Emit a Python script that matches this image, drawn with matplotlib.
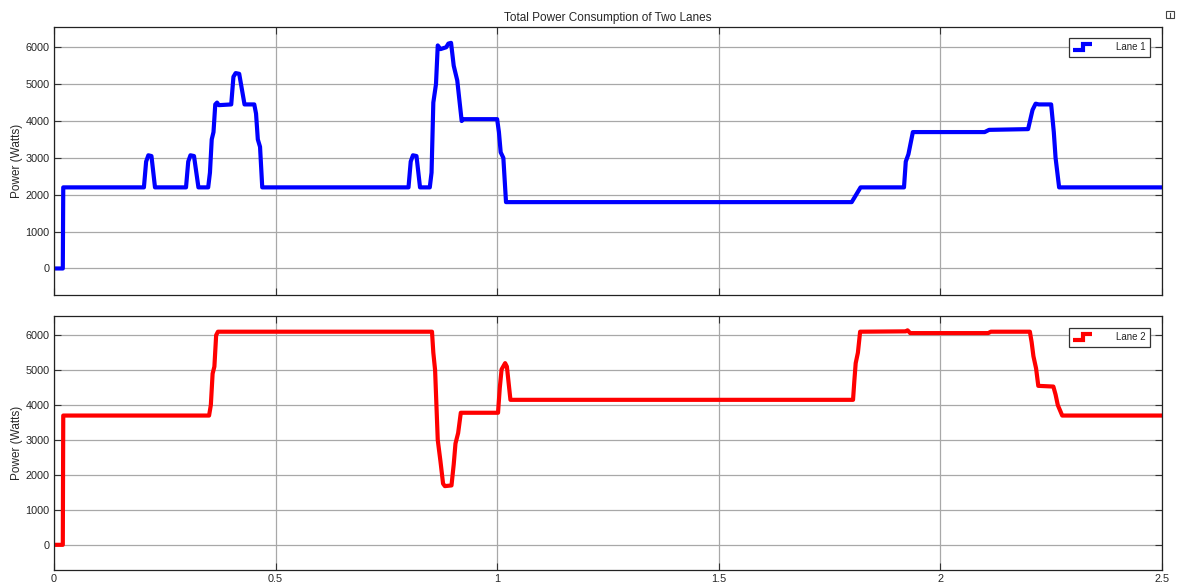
"""Two-lane power consumption scope traces."""

import matplotlib

matplotlib.use("Agg")
import matplotlib.pyplot as plt
from matplotlib.legend_handler import HandlerBase
from matplotlib.lines import Line2D
from matplotlib.patches import Rectangle

plt.rcParams["font.family"] = ["Liberation Sans", "DejaVu Sans"]

# time (s) and power (W) for each lane
lane1_t = [0, 0.02, 0.021, 0.203, 0.208, 0.213, 0.22, 0.228, 0.298, 0.303,
           0.308, 0.316, 0.326, 0.348, 0.352, 0.356, 0.36, 0.364, 0.368, 0.372,
           0.40, 0.405, 0.41, 0.418, 0.43, 0.452, 0.456, 0.46, 0.465, 0.47,
           0.80, 0.805, 0.81, 0.818, 0.826, 0.848, 0.852, 0.856, 0.862, 0.866,
           0.872, 0.885, 0.89, 0.896, 0.902, 0.91, 0.92, 0.923, 1.0, 1.004,
           1.008, 1.014, 1.02, 1.80, 1.82, 1.918, 1.922, 1.928, 1.938, 2.10,
           2.11, 2.198, 2.208, 2.215, 2.222, 2.25, 2.256, 2.26, 2.268, 2.5]
lane1_p = [0, 0, 2200, 2200, 2900, 3070, 3050, 2200, 2200, 2900,
           3070, 3050, 2200, 2200, 2600, 3500, 3700, 4450, 4500, 4430,
           4450, 5200, 5300, 5280, 4450, 4450, 4200, 3500, 3300, 2200,
           2200, 2900, 3070, 3050, 2200, 2200, 2600, 4500, 5000, 6050,
           5950, 6000, 6100, 6120, 5500, 5100, 4000, 4050, 4050, 3700,
           3150, 3000, 1800, 1800, 2200, 2200, 2900, 3100, 3700, 3700,
           3760, 3780, 4300, 4470, 4450, 4450, 3700, 3000, 2200, 2200]

lane2_t = [0, 0.02, 0.021, 0.35, 0.354, 0.358, 0.362, 0.366, 0.37, 0.853,
           0.856, 0.86, 0.866, 0.872, 0.878, 0.882, 0.897, 0.902, 0.906, 0.912,
           0.918, 1.002, 1.006, 1.01, 1.018, 1.022, 1.03, 1.803, 1.806, 1.809,
           1.814, 1.819, 1.922, 1.926, 1.932, 2.108, 2.114, 2.202, 2.206, 2.21,
           2.216, 2.221, 2.255, 2.26, 2.265, 2.275, 2.5]
lane2_p = [0, 0, 3700, 3700, 4000, 4900, 5100, 6000, 6100, 6100,
           5500, 5000, 3000, 2400, 1750, 1680, 1700, 2300, 2900, 3200,
           3780, 3780, 4500, 5020, 5200, 5100, 4150, 4150, 4700, 5200,
           5500, 6100, 6110, 6140, 6060, 6060, 6100, 6100, 5800, 5400,
           5050, 4550, 4530, 4300, 4000, 3700, 3700]

x_ticks = [0, 0.5, 1, 1.5, 2, 2.5]
x_tick_labels = ["0", "0.5", "1", "1.5", "2", "2.5"]
y_ticks = [0, 1000, 2000, 3000, 4000, 5000, 6000]

GRID = "#a8a8a8"
TEXT = "#262626"


class StepHandler(HandlerBase):
    """Legend key drawn as a small step."""

    def create_artists(self, legend, orig_handle, xdescent, ydescent,
                       width, height, fontsize, trans):
        xs = [-xdescent + f * width for f in (0.0, 0.5, 0.5, 1.0)]
        ys = [-ydescent + f * height for f in (0.1, 0.1, 0.9, 0.9)]
        key = Line2D(xs, ys, color=orig_handle.get_color(), lw=3,
                     solid_capstyle="butt", solid_joinstyle="miter")
        key.set_transform(trans)
        return [key]


def style_axes(ax, show_xlabels):
    ax.set_xlim(0, 2.5)
    ax.set_ylim(-720, 6550)
    ax.set_xticks(x_ticks)
    ax.set_xticklabels(x_tick_labels if show_xlabels else [])
    ax.set_yticks(y_ticks)
    ax.grid(True, color=GRID, linewidth=0.9)
    ax.set_axisbelow(True)
    ax.tick_params(direction="in", top=True, right=True, length=5,
                   labelsize=7.8, labelcolor=TEXT, color="#333333",
                   pad=3)
    for spine in ax.spines.values():
        spine.set_color("#222222")
        spine.set_linewidth(0.9)
    ax.set_ylabel("Power (Watts)", fontsize=8.5, color=TEXT, labelpad=2)


fig = plt.figure(figsize=(11.83, 5.87), dpi=100)
ax1 = fig.add_axes([0.0456, 0.4974, 0.9366, 0.4566])
ax2 = fig.add_axes([0.0456, 0.0290, 0.9366, 0.4327])

(line1,) = ax1.plot(lane1_t, lane1_p, color="#0000ff", lw=3,
                    solid_joinstyle="round", label="Lane 1")
(line2,) = ax2.plot(lane2_t, lane2_p, color="#ff0000", lw=3,
                    solid_joinstyle="round", label="Lane 2")

style_axes(ax1, False)
style_axes(ax2, True)
ax1.set_title("Total Power Consumption of Two Lanes", fontsize=8.5,
              color=TEXT, pad=4)

for ax, line, anchor in ((ax1, line1, (0.989, 0.959)),
                         (ax2, line2, (0.989, 0.953))):
    leg = ax.legend(handles=[line], loc="upper right", bbox_to_anchor=anchor,
                    borderaxespad=0, fontsize=7, handlelength=2.0,
                    handletextpad=2.4, borderpad=0.45, fancybox=False,
                    framealpha=1, edgecolor="#333333",
                    handler_map={Line2D: StepHandler()})
    leg.get_frame().set_linewidth(0.9)
    for text in leg.get_texts():
        text.set_color(TEXT)

# small window-control glyph in the top corner
fig.patches.append(Rectangle((1166 / 1183, 1 - 18 / 587), 8 / 1183, 7 / 587,
                             transform=fig.transFigure, fill=False,
                             edgecolor="#444444", linewidth=0.8))
fig.lines.append(Line2D([1170 / 1183, 1170 / 1183],
                        [1 - 17 / 587, 1 - 13 / 587],
                        transform=fig.transFigure, color="#444444", lw=0.8))

fig.savefig("out.png", dpi=100, facecolor="white")
